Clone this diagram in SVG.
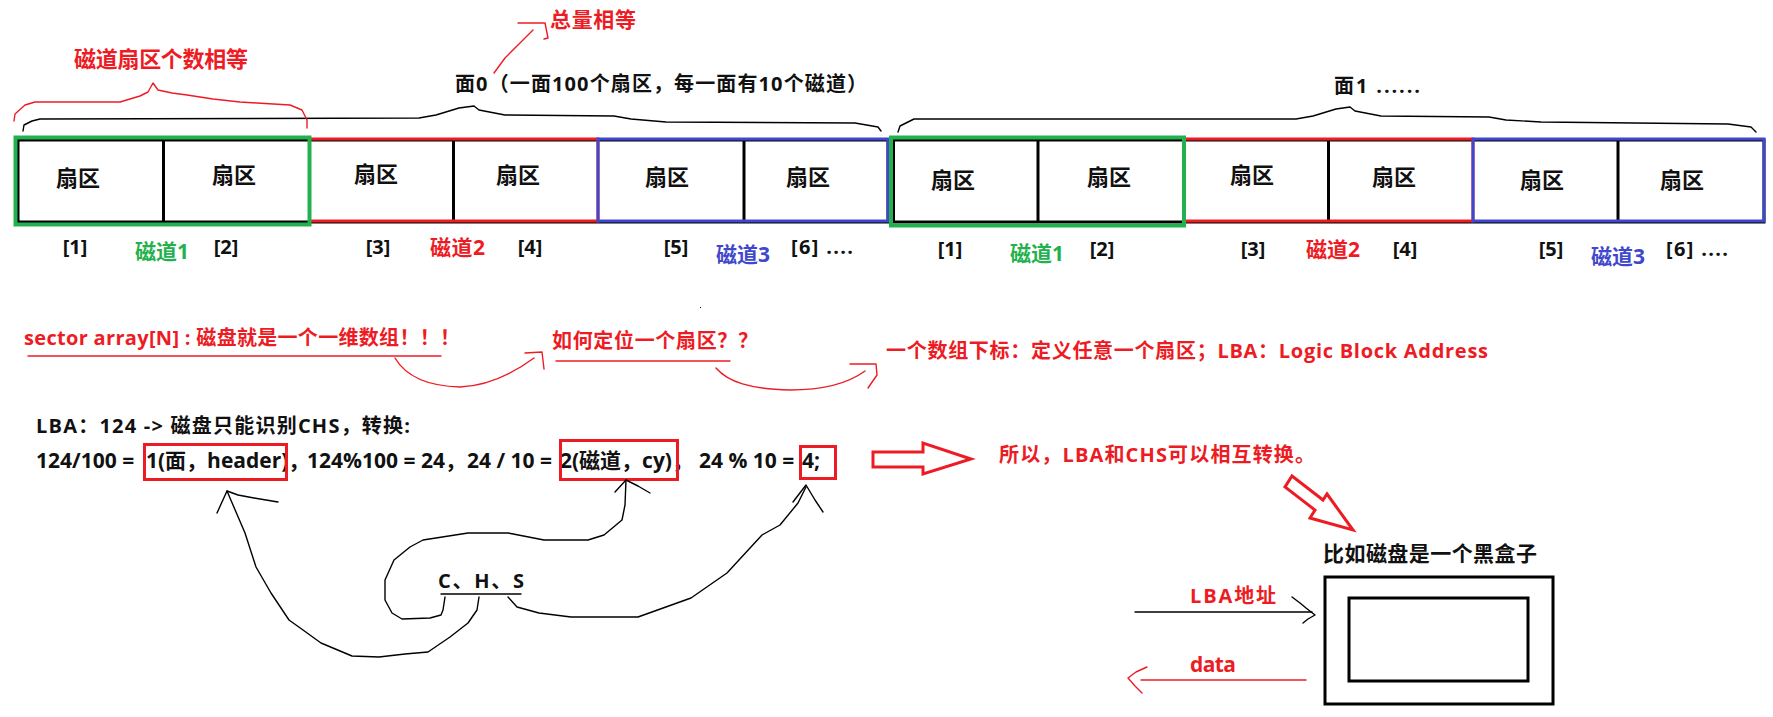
<svg xmlns="http://www.w3.org/2000/svg" width="1773" height="717" viewBox="0 0 1773 717">
<style>
.t{font-family:'Open Sans','Noto Sans CJK SC',sans-serif;font-weight:700;fill:#111}
.r{fill:#ed1c24}.g{fill:#22b14c}.b{fill:#3f48cc}
.s22{font-size:22px}.s20{font-size:20px}.s21{font-size:21px}.s18{font-size:20px}
.m{text-anchor:middle}
.cell{fill:#fff;stroke:#000;stroke-width:3}
.div{stroke:#000;stroke-width:3}
.trG{fill:none;stroke:#22b14c;stroke-width:4}
.trR{fill:none;stroke:#ed1c24;stroke-width:3}
.trB{fill:none;stroke:#3f48cc;stroke-width:3}
.bk{fill:none;stroke:#000;stroke-width:1.4;stroke-linejoin:round;stroke-linecap:round}
.rd{fill:none;stroke:#ed1c24;stroke-width:1.4;stroke-linejoin:round;stroke-linecap:round}
.hol{fill:none;stroke:#ed1c24;stroke-width:3;stroke-linejoin:miter}
.box{fill:none;stroke:#ed1c24;stroke-width:3}
.bb{fill:none;stroke:#000;stroke-width:3}
</style>
<rect width="1773" height="717" fill="#fff"/>

<g id="face0">
  <rect class="cell" x="18" y="140" width="870" height="82"/>
  <line class="div" x1="163.5" y1="140" x2="163.5" y2="222"/>
  <line class="div" x1="453.5" y1="140" x2="453.5" y2="222"/>
  <line class="div" x1="744" y1="140" x2="744" y2="222"/>
  <rect class="trR" x="309.5" y="139" width="288.5" height="82"/>
  <rect class="trB" x="598" y="139" width="290" height="82"/>
  <rect class="trG" x="15.5" y="137.5" width="294" height="87"/>
  <text class="t s22 m" x="78" y="186">扇区</text>
  <text class="t s22 m" x="234" y="183">扇区</text>
  <text class="t s22 m" x="376" y="182">扇区</text>
  <text class="t s22 m" x="518" y="183">扇区</text>
  <text class="t s22 m" x="667" y="185">扇区</text>
  <text class="t s22 m" x="808" y="185">扇区</text>
  <text class="t s18 m" x="75" y="254">[1]</text>
  <text class="t s21 g" x="135" y="259" textLength="54">磁道1</text>
  <text class="t s18 m" x="226" y="254">[2]</text>
  <text class="t s18 m" x="378" y="254">[3]</text>
  <text class="t s21 r" x="430" y="255" textLength="55">磁道2</text>
  <text class="t s18 m" x="530" y="254">[4]</text>
  <text class="t s18 m" x="676" y="254">[5]</text>
  <text class="t s21 b" x="716" y="262" textLength="54">磁道3</text>
  <text class="t s18" x="791" y="254" textLength="62">[6] ....</text>
  <text class="t s20" x="455" y="91" textLength="412">面0（一面100个扇区，每一面有10个磁道）</text>
</g>

<g id="face1">
  <rect class="cell" x="893.5" y="140" width="870.5" height="82"/>
  <line class="div" x1="1038" y1="140" x2="1038" y2="222"/>
  <line class="div" x1="1328.5" y1="140" x2="1328.5" y2="222"/>
  <line class="div" x1="1618" y1="140" x2="1618" y2="222"/>
  <rect class="trR" x="1184" y="139" width="289" height="82"/>
  <rect class="trB" x="1473" y="139" width="291" height="82"/>
  <rect class="trG" x="891" y="137.5" width="293" height="88"/>
  <text class="t s22 m" x="953" y="188">扇区</text>
  <text class="t s22 m" x="1109" y="185">扇区</text>
  <text class="t s22 m" x="1252" y="183">扇区</text>
  <text class="t s22 m" x="1394" y="185">扇区</text>
  <text class="t s22 m" x="1542" y="188">扇区</text>
  <text class="t s22 m" x="1682" y="188">扇区</text>
  <text class="t s18 m" x="950" y="256">[1]</text>
  <text class="t s21 g" x="1010" y="261" textLength="54">磁道1</text>
  <text class="t s18 m" x="1102" y="256">[2]</text>
  <text class="t s18 m" x="1253" y="256">[3]</text>
  <text class="t s21 r" x="1306" y="257" textLength="54">磁道2</text>
  <text class="t s18 m" x="1405" y="256">[4]</text>
  <text class="t s18 m" x="1551" y="256">[5]</text>
  <text class="t s21 b" x="1591" y="264" textLength="54">磁道3</text>
  <text class="t s18" x="1666" y="256" textLength="62">[6] ....</text>
  <text class="t s20" x="1334" y="93" textLength="86">面1 ......</text>
</g>

<g id="notes">
  <text class="t r" style="font-size:22px" x="74" y="67" textLength="174">磁道扇区个数相等</text>
  <text class="t s21 r" x="550" y="26.5" textLength="86">总量相等</text>
  <text class="t s20 r" x="24" y="345" textLength="436">sector array[N] : 磁盘就是一个一维数组！！！</text>
  <text class="t s20 r" x="552" y="348" textLength="206">如何定位一个扇区？？</text>
  <text class="t s20 r" x="886" y="358" textLength="602">一个数组下标：定义任意一个扇区；LBA：Logic Block Address</text>
  <text class="t s20 r" x="999" y="461.5" textLength="316">所以，LBA和CHS可以相互转换。</text>
</g>

<g id="conversion">
  <text class="t s20" x="36" y="432.5" textLength="374">LBA：124 -&gt; 磁盘只能识别CHS，转换:</text>
  <text class="t s21" y="468"><tspan x="36">124/100 =</tspan><tspan x="146">1(面，header)，</tspan><tspan x="307">124%100 = 24，</tspan><tspan x="467">24 / 10 =</tspan><tspan x="560">2(磁道，cy)，</tspan><tspan x="699">24 % 10 =</tspan><tspan x="802">4;</tspan></text>
  <rect class="box" x="144.5" y="444.5" width="142" height="35"/>
  <rect class="box" x="560.5" y="440.5" width="117" height="39"/>
  <rect class="box" x="800.5" y="446.5" width="35" height="32"/>
</g>

<g id="chs">
  <text class="t s20" x="438" y="587.5" textLength="86">C、H、S</text>
  <line class="bk" x1="441" y1="594" x2="521" y2="594"/>
</g>

<g id="blackbox">
  <text class="t s21" x="1323" y="560.5" textLength="214">比如磁盘是一个黑盒子</text>
  <rect class="bb" x="1325" y="577" width="228" height="127"/>
  <rect class="bb" x="1349" y="598" width="179" height="83"/>
  <text class="t s20 r" x="1190" y="603" textLength="86">LBA地址</text>
  <text class="t s21 r" x="1190" y="672" textLength="46">data</text>
</g>

<g id="connectors">
  <polyline class="bk" points="23,131 24,125 32,121 40,119 419,118 436,115 459,108 474,106 479,110 505,115 614,116 631,119 666,122 855,123 878,127 881,131"/>
  <polyline class="bk" points="898,132 900,126 914,119 1296,119 1313,116 1336,109 1350,107 1355,111 1381,116 1489,117 1506,120 1541,122 1728,124 1751,127 1756,132"/>
  <polyline class="rd" points="14,121 15,114 25,105 35,102 120,102 140,96 148,92 153,83 158,90 172,93 187,95 213,99 240,102 257,103 290,105 302,110 307,120 307,128"/>
  <polyline class="rd" points="494,73 505,58 518,45 533,30"/>
  <polyline class="rd" points="518,23 545,23 548,38 544,39"/>
  <line class="rd" x1="28" y1="356" x2="441" y2="356"/>
  <path class="rd" d="M395,358 C405,375 425,386 460,387 C490,386 515,372 534,358"/>
  <polyline class="rd" points="525,353 542,352 544,369"/>
  <line class="rd" x1="556" y1="361" x2="730" y2="361"/>
  <path class="rd" d="M716,368 C728,382 750,389 790,390 C825,390 850,382 865,371"/>
  <polyline class="rd" points="850,364 876,364 877,375 868,388"/>
  <polygon class="hol" points="873,452 923,452 923,443 971,459 923,474 923,467 873,467"/>
  <polygon class="hol" points="1292,476 1323,500 1327,494 1353,530 1310,518 1315,510 1285,487"/>
  <polyline class="bk" points="445,597 443,610 441,615 430,618 402,619 392,613 385,600 385,580 394,560 410,547 423,540 468,533 508,533 544,540 588,540 604,535 622,520 625,505 626,480"/>
  <polyline class="bk" points="615,492 626,480 638,486 650,493"/>
  <polyline class="bk" points="479,597 477,610 468,623 450,637 428,652 405,654 379,657 352,656 321,643 303,630 289,620 271,593 256,567 245,533 227,491"/>
  <polyline class="bk" points="217,513 227,491 238,495 254,498 278,502"/>
  <polyline class="bk" points="508,597 517,607 539,613 571,617 638,617 691,598 727,573 762,535 780,525 798,503 806,487"/>
  <polyline class="bk" points="793,502 806,485 815,500 823,512"/>
  <line class="bk" x1="1135" y1="612" x2="1312" y2="612"/>
  <polyline class="bk" points="1292,597 1300,603 1306,608 1315,615 1308,619 1303,623"/>
  <line class="rd" x1="1141" y1="680" x2="1306" y2="680"/>
  <polyline class="rd" points="1147,667 1136,672 1128,678 1135,686 1142,693"/>
  <rect x="700" y="307" width="1" height="1" fill="#000"/>
</g>
</svg>
